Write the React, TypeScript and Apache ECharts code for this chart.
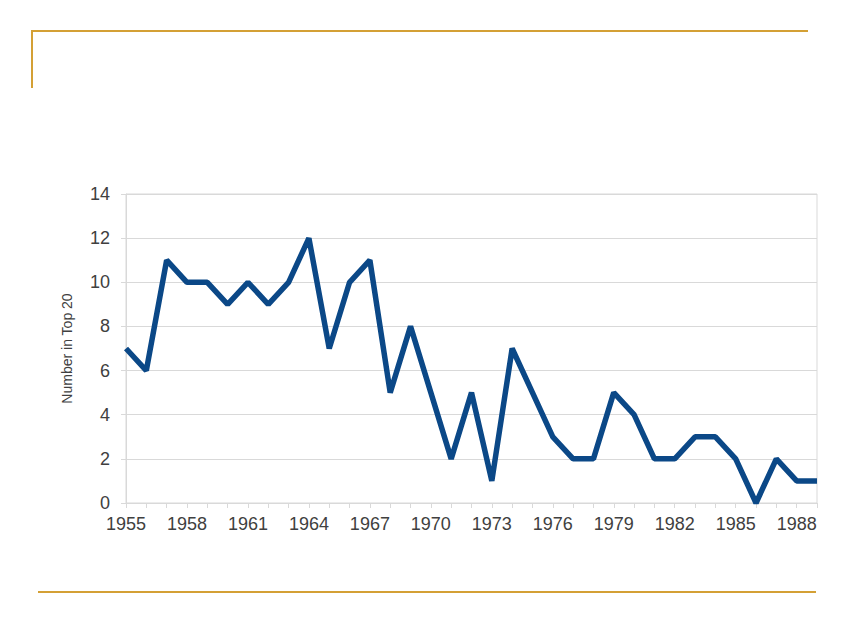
import { useEffect, useRef } from 'react'
import * as echarts from 'echarts'

const years = [
  '1955', '1956', '1957', '1958', '1959', '1960', '1961', '1962', '1963', '1964',
  '1965', '1966', '1967', '1968', '1969', '1970', '1971', '1972', '1973', '1974',
  '1975', '1976', '1977', '1978', '1979', '1980', '1981', '1982', '1983', '1984',
  '1985', '1986', '1987', '1988', '1989',
]

const top20Counts = [
  7, 6, 11, 10, 10, 9, 10, 9, 10, 12,
  7, 10, 11, 5, 8, 5, 2, 5, 1, 7,
  5, 3, 2, 2, 5, 4, 2, 2, 3, 3,
  2, 0, 2, 1, 1,
]

const yMin = 0
const yMax = 14
const yStep = 2

const gold = '#d4a035'
const gridGray = '#d9d9d9'
const textGray = '#404040'
const font = 'Liberation Sans, Arial, sans-serif'

function App() {
  const chartRef = useRef<HTMLDivElement>(null)

  useEffect(() => {
    document.body.style.margin = '0'
    if (!chartRef.current) return
    const chart = echarts.init(chartRef.current, undefined, { renderer: 'svg' })

    chart.setOption({
      animation: false,
      backgroundColor: '#fff',
      textStyle: { fontFamily: font },
      grid: {
        left: 126,
        right: 33,
        top: 194,
        bottom: 125,
        show: true,
        borderColor: gridGray,
        borderWidth: 1,
        backgroundColor: 'transparent',
      },
      graphic: [
        // gold frame at the top of the slide
        {
          type: 'polyline',
          shape: { points: [[32, 88], [32, 31], [808, 31]] },
          style: { stroke: gold, lineWidth: 2, fill: null },
        },
        // gold rule at the bottom
        {
          type: 'line',
          shape: { x1: 38, y1: 592, x2: 816, y2: 592 },
          style: { stroke: gold, lineWidth: 2 },
        },
      ],
      xAxis: {
        type: 'category',
        data: years,
        boundaryGap: false,
        axisLine: { lineStyle: { color: gridGray } },
        axisTick: { show: true, interval: 0, length: 5, lineStyle: { color: gridGray } },
        axisLabel: {
          interval: 2,
          color: textGray,
          fontSize: 18,
          margin: 12,
          fontFamily: font,
        },
        splitLine: { show: false },
      },
      yAxis: {
        type: 'value',
        min: yMin,
        max: yMax,
        interval: yStep,
        name: 'Number in Top 20',
        nameLocation: 'middle',
        nameGap: 52,
        nameTextStyle: { color: textGray, fontSize: 14, fontFamily: font },
        axisLine: { show: true, lineStyle: { color: gridGray } },
        axisTick: { show: true, length: 5, lineStyle: { color: gridGray } },
        axisLabel: { color: textGray, fontSize: 18, margin: 16, fontFamily: font },
        splitLine: { lineStyle: { color: gridGray, width: 1 } },
      },
      series: [
        {
          type: 'line',
          data: top20Counts,
          symbol: 'none',
          lineStyle: { color: '#0b4887', width: 5.5 },
        },
      ],
    })

    return () => {
      chart.dispose()
    }
  }, [])

  return <div ref={chartRef} style={{ width: 850, height: 628 }} />
}

export default App
